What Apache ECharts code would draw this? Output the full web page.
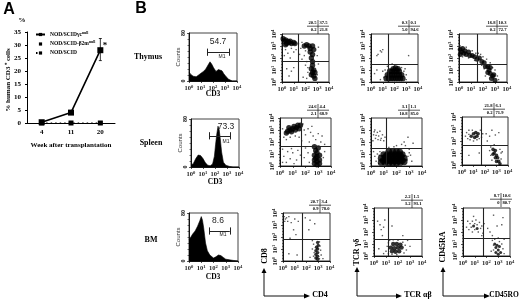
<!DOCTYPE html>
<html><head><meta charset="utf-8">
<script src="https://cdn.jsdelivr.net/npm/echarts@6/dist/echarts.min.js"></script>
<style>html,body{margin:0;background:#fff}#c{width:520px;height:300px;filter:blur(.4px)}</style>
</head><body><div id="c"></div>
<script>
const FONT='"Liberation Serif"';
// ---- Panel A data
const weeks=['4','11','20'];
const gcNull=[0.3,4,28];
const b2mNull=[0,0,0];
const scid=[0,0,0];
const gcError=[null,null,[24,32.5]];
const aNames=['NOD/SCIDγc','NOD/SCID-β2m','NOD/SCID'];
// ---- Histograms: [log10 fluorescence, counts]
const histThymus=[[0,15],[.15,11],[.35,8],[.6,7],[.8,10],[1,13],[1.2,16],[1.4,20],[1.6,27],[1.75,32],[1.9,28],[2.05,22],[2.25,16],[2.45,19],[2.6,22],[2.75,17],[2.9,12],[3.1,7],[3.3,3],[3.45,1],[3.6,0],[4,0]];
const histSpleen=[[0,3],[.2,6],[.4,14],[.6,20],[.8,19],[1,14],[1.2,7],[1.4,3],[1.6,2],[1.8,5],[1.95,18],[2.05,38],[2.15,55],[2.25,68],[2.35,62],[2.45,45],[2.55,25],[2.7,8],[2.9,3],[3.2,1],[3.5,0],[4,0]];
const histBM=[[0,35],[.1,38],[.3,45],[.5,50],[.7,58],[.9,68],[1,74],[1.1,68],[1.2,55],[1.35,30],[1.5,17],[1.7,10],[2,5],[2.2,7],[2.4,10],[2.6,9],[2.8,6],[3,3],[3.3,2],[3.6,1],[4,0]];
const histLabels=['54.7','73.3','8.6'];
const m1Ranges=[[1.5,3.33,48],[1.5,3.25,52],[1.67,3.33,50]];
// ---- Dot plots
const crosses=[[1.36,1.75],[1.45,1.5],[1.5,1.5],[1.7,1.65],[1.18,1.5],[1.65,1.65],[1.6,1.85],[1.2,1.4],[1.75,1.5]];
const quads=[
 [['20.5','37.5'],['0.2','21.8']],[['0.3','0.1'],['5.0','94.6']],[['16.8','10.3'],['0.2','72.7']],
 [['24.6','4.4'],['2.1','68.9']],[['3.1','1.1'],['10.8','85.0']],[['21.8','6.1'],['0.2','71.9']],
 [['20.7','3.4'],['0.9','78.0']],[['2.2','1.5'],['3.2','93.1']],[['8.7','10.6'],['0','80.7']]];
const dense1=[[.1,3.6],[.2,3.4],[.3,3.5],[.4,3.2],[.5,3.4],[.6,3.3],[.7,3.4],[.8,3.2],[1,3.3],[1.1,3.2],[.3,3.1],[1.9,3],[2.1,3.1],[2.3,3],[2.4,2.8],[2.6,3],[2.7,2.7],[2.4,2.5],[2.6,2.3],[2.5,2],[2.6,1.7],[2.6,1.4],[2.5,1.1],[2.7,1],[2.6,.8],[2.7,.5],[2.8,.3],[2.5,.6],[2.8,.8]];
const sparse1=[[.3,2.7],[.5,2.4],[.8,2.8],[1,2.5],[.2,2.2],[.7,2],[1.2,2.7],[1.6,2.8],[1.4,3.2],[1.7,3.3],[1.5,2.3],[1.9,2.2],[1.7,1.9],[2.1,1.7],[2.2,1.2],[2,1.4],[2.2,.8],[3.1,1.5],[3,2.2],[3.1,2.9],[.4,1.1],[.8,.9],[.6,.5],[1,1.2],[1.8,.4],[2.1,.3],[2,2.6],[3,.6]];
const dense2=[[1.3,.3],[1.5,.3],[1.7,.3],[1.9,.3],[2.1,.3],[2.3,.3],[2.5,.3],[2.7,.3],[1.4,.6],[1.6,.6],[1.8,.6],[2,.6],[2.2,.6],[2.4,.6],[2.6,.6],[1.6,.9],[1.8,.9],[2,.9],[2.2,.9],[2.4,.9],[1.9,1.1],[2.1,1.15],[2.3,1.1]];
const sparse2=[[.6,2.3],[.8,2.6],[.5,2.2],[1,2.7],[.9,2.5],[.3,.7],[.5,1],[1,.9],[1.1,.4],[1.2,1],[1.4,1.3],[1.8,1.5],[2,1.4],[2.6,1.2],[2.8,.9],[3,.6],[3,.2],[2.9,1.1],[.8,.2],[3.2,2.2]];
const dense3=[[.1,2.7],[.1,2.3],[.2,2.5],[.3,2.8],[.4,2.4],[.5,2.6],[.6,2.3],[.8,2.5],[.9,2.2],[1.1,2.2],[1.3,2.1],[1.5,1.9],[1.7,2],[1.9,1.7],[2.1,1.6],[2.2,1.3],[2.4,1.3],[2.5,1],[2.6,.7],[2.4,.8],[2.8,.5],[2.7,.3],[3,.15],[2.9,.6],[2.6,1.2]];
const sparse3=[[.1,3],[.3,2.1],[.6,2.9],[.8,2],[1.1,2.6],[1.4,2.4],[1.6,2.4],[1.3,1.8],[1.8,2.3],[2,2.1],[2.3,1.9],[2.6,1.6],[2.8,1.2],[3,1],[3.2,.5],[3.3,.2],[2.1,1.1],[1.9,1.4],[2.2,.5]];
const dense4=[[.6,2.9],[.8,3],[.7,3.2],[.9,2.85],[1,3.1],[1.1,3.3],[1.2,3],[1.3,3.2],[1.4,3.4],[1.5,3.1],[1.6,3.4],[.5,2.75],[2.7,1.6],[2.8,1.3],[2.9,1.1],[2.7,.9],[2.9,.8],[3.1,.9],[2.7,.5],[2.9,.4],[3.1,.5],[2.7,.2],[2.9,.1],[3.1,.2],[3,1.5],[2.8,.65]];
const sparse4=[[.2,3.1],[.3,2.4],[.5,2.2],[.8,2.4],[1.2,2.5],[1.5,2.4],[1.8,3.5],[1.9,3],[2,2.6],[2.2,3.1],[2.4,2.8],[2.6,2.5],[2.8,2.2],[3,2.7],[3.2,2],[3.5,1.8],[2.3,2],[.2,1.4],[.3,.8],[.6,1.2],[.8,.6],[1,1.1],[1.3,.5],[1.4,1.3],[1.1,.2],[.5,.3],[1.9,.7],[2.2,1.1],[2.3,.3],[3.4,.7],[3.5,1.2],[.2,.3],[1.6,.9],[2,1.5],[.9,1.45],[3.3,2.5],[2.5,3.3],[1.7,2.1]];
const dense5=[[.8,.3],[1.1,.3],[1.4,.25],[1.7,.25],[2,.25],[2.3,.3],[2.6,.35],[.8,.65],[1.1,.65],[1.4,.6],[1.7,.6],[2,.6],[2.3,.6],[2.6,.65],[1,.95],[1.3,.95],[1.6,.95],[1.9,.95],[2.2,.95],[2.45,.95],[1.4,1.2],[1.7,1.2],[2,1.2],[2.25,1.15],[.95,.45],[1.25,.45],[1.55,.42],[1.85,.42],[2.15,.42],[2.45,.45],[1.15,.8],[1.45,.8],[1.75,.8],[2.05,.8],[2.35,.8]];
const sparse5=[[.15,2.1],[.2,2.6],[.3,3],[.35,2.3],[.5,2.8],[.55,2.2],[.6,2.5],[.7,2.9],[.8,2.3],[.9,2.6],[1,2.1],[.4,2.55],[.25,2.85],[.75,2.15],[1.1,2.4],[.2,1.2],[.3,.8],[.5,1],[.4,.4],[.7,1.2],[.6,.2],[2,1.7],[2.4,1.8],[2.6,2],[2.7,1.7],[3,1.4],[3.1,.9],[3.2,.4],[3,1.1],[1.4,1.55],[1.8,1.6],[2.9,2.4],[3.3,1.9],[.65,.9],[2.85,.5],[2.9,.8]];
const dense6=[[.8,2.4],[1,2.6],[1.1,2.3],[1.2,2.7],[1.3,2.4],[1.4,2.6],[2.7,1.3],[2.8,1],[2.9,1.2],[3,.8],[2.9,.6],[3.1,.6],[3,.3],[3.2,.3],[3.3,.1],[2.7,.9]];
const sparse6=[[.3,2.4],[.4,2.7],[.5,2.2],[.6,2.9],[.7,2.1],[.9,2.9],[1.5,2.2],[1.6,2.9],[1.7,2.3],[1,2],[1.3,2.1],[.6,2.55],[1.8,2.6],[2.1,2.6],[2.4,2.4],[2.6,2.9],[2.9,2.5],[3.2,2.7],[2.2,2],[2.8,1.7],[2.5,1.5],[2.5,.8],[2.6,.4],[3.4,1],[3.4,.5],[3.3,1.3],[3.5,1.1],[2.4,1.2],[1.5,1],[.6,.8]];
const dense7=[[2.95,1.55],[3,1.3],[2.85,1.15],[2.95,1],[2.8,.85],[2.95,.7],[2.8,.55],[2.95,.4],[2.8,.25],[2.95,.15]];
const sparse7=[[.1,3.7],[.2,3.5],[.15,3.3],[.3,3.6],[.4,3.3],[.5,3.7],[.7,3.2],[1,3.5],[1.3,3.3],[.9,2.6],[1.1,2.2],[.6,1.9],[1.9,3.6],[2.3,3.4],[2.7,3.1],[2.2,2.6],[2.5,1],[2.6,.4],[2.6,1.4],[3.1,1.6],[3.2,.9],[3.25,.5],[3.1,.2],[3.4,.2],[1.2,.5],[.5,.6],[2.3,.3],[2.5,1.7],[3.15,1.25],[2.65,.7]];
const dense8=[[1.5,.4],[1.8,.35],[2.1,.4],[1.4,.7],[1.7,.65],[2,.7],[2.3,.7],[1.6,1],[1.9,1],[2.2,.95]];
const sparse8=[[.3,2.9],[.5,2.6],[.6,2.2],[.8,2.4],[.9,3],[1.5,2.5],[.7,1.7],[1,.4],[1.1,.8],[1.2,1.1],[1.2,.2],[1.3,1.3],[1.6,1.35],[2,1.3],[2.4,1.15],[2.6,.9],[2.7,.5],[2.5,.25],[1.5,.15],[1.9,.1],[3,.8],[2.8,1.3],[.4,.6],[.8,.2],[2.4,1.7]];
const dense9=[[.9,2.5],[1.2,2.3],[2.7,1],[2.8,.7],[2.9,.9],[3,.5],[2.8,.3],[3,.15],[3.1,.8],[3.2,.3]];
const sparse9=[[.3,2.4],[.4,2.9],[.5,2.2],[.6,2.7],[.7,2.4],[.8,2.9],[.8,2],[1,2.7],[1,2.2],[1.1,3],[1.2,2.6],[1.3,2],[1.4,2.8],[1.5,2.3],[1.6,2.5],[1.7,1.9],[1.8,2.7],[2.1,2.3],[2.3,2],[2.5,1.7],[2.5,1.3],[2.6,.9],[2.6,.5],[2.7,1.4],[3,1.5],[3.1,1.2],[3.3,1],[3.4,.6],[3.5,.2],[3.3,2.6],[3.5,1.4],[2.9,2.5],[2.6,3.4],[3.4,3.2],[.9,3.3],[1.6,1.7],[2.4,.4]];
const denseSets=[dense1,dense2,dense3,dense4,dense5,dense6,dense7,dense8,dense9];
const sparseSets=[sparse1,sparse2,sparse3,sparse4,sparse5,sparse6,sparse7,sparse8,sparse9];

// ---- Layout (pixels, separate from the data)
const histBoxes=[[189,33,48,48],[191,119,48,48],[189,213,49,48]];
const dotBoxes=[[282,34,47,48],[371,34,47,48],[459,34,48,48],[280,118,51,48],[371,118,51,48],[462,117,46,48],[283,213,47,48],[374,208,48,48],[463,208,47,48]];
const quadPos=[[318,23],[409,23],[497,23],[318,107],[409,107],[494,106],[320,202],[412,197],[501,196]];
const denseSize=[5.4,5.8,5,5.4,6.8,3.6,3.4,4.4,3];

const T=(text,x,y,size,opt={})=>({type:'text',x,y,rotation:opt.rot||0,silent:true,style:{text,font:(opt.weight||'bold')+' '+size+'px '+(opt.family||FONT),fill:opt.fill||'#000',align:opt.align||'center',verticalAlign:'middle'}});
const L=(x1,y1,x2,y2,w=1)=>({type:'line',silent:true,shape:{x1,y1,x2,y2},style:{stroke:'#111',lineWidth:w}});
const Arrow=(x,y,dx,dy)=>({type:'polygon',silent:true,shape:{points:dx?[[x,y-2.5],[x,y+2.5],[x+dx,y]]:[[x-2.5,y],[x+2.5,y],[x,y+dy]]},style:{fill:'#000'}});

const grid=[],xAxis=[],yAxis=[],series=[],graphic=[];
const logLabel=v=>'{b|10}{s|'+v+'}';
const logRich={b:{fontFamily:FONT,fontSize:6.5,fontWeight:'bold',color:'#222'},s:{fontFamily:FONT,fontSize:4.6,fontWeight:'bold',color:'#222',padding:[0,0,4,0]}};
function logAxis(rot,margin){return{type:'value',min:0,max:4,interval:1,axisLine:{show:true,lineStyle:{color:'#111',width:1}},axisTick:{show:true,length:2,lineStyle:{color:'#111',width:.7}},minorTick:{show:true,splitNumber:4,length:1,lineStyle:{color:'#111',width:.5}},splitLine:{show:false},axisLabel:{formatter:logLabel,rich:logRich,rotate:rot,margin:margin,showMinLabel:true,showMaxLabel:true,hideOverlap:false}}}

// Panel A
grid.push({left:27,top:32,width:88,height:91});
xAxis.push({type:'category',data:weeks,axisLine:{lineStyle:{color:'#000',width:1}},axisTick:{alignWithLabel:true,length:2,lineStyle:{color:'#000'}},axisLabel:{fontFamily:FONT,fontWeight:'bold',fontSize:7,color:'#000',margin:6},name:'Week after transplantation',nameLocation:'middle',nameGap:19,nameTextStyle:{fontFamily:FONT,fontWeight:'bold',fontSize:7,color:'#000'}});
yAxis.push({type:'value',min:0,max:35,interval:5,axisLine:{show:true,lineStyle:{color:'#000',width:1}},axisTick:{show:true,length:2,lineStyle:{color:'#000'}},splitLine:{show:false},axisLabel:{fontFamily:FONT,fontWeight:'bold',fontSize:7,color:'#000',margin:6}});
series.push({name:aNames[0],type:'line',xAxisIndex:0,yAxisIndex:0,data:gcNull,symbol:'rect',symbolSize:6,itemStyle:{color:'#000'},lineStyle:{color:'#000',width:1.6},z:5});
series.push({name:aNames[1],type:'line',xAxisIndex:0,yAxisIndex:0,data:b2mNull,symbol:'rect',symbolSize:4,itemStyle:{color:'#000'},lineStyle:{width:0},z:5});
series.push({name:aNames[2],type:'line',xAxisIndex:0,yAxisIndex:0,data:scid,symbol:'rect',symbolSize:5,itemStyle:{color:'#000'},lineStyle:{color:'#000',width:1.2,type:[1.5,3]},z:4});
series.push({type:'custom',xAxisIndex:0,yAxisIndex:0,data:gcError.map((e,i)=>e?[i,e[0],e[1]]:null).filter(Boolean),encode:{x:0,y:[1,2]},silent:true,
 renderItem(p,api){const a=api.coord([api.value(0),api.value(1)]),b=api.coord([api.value(0),api.value(2)]);
  const st={stroke:'#000',lineWidth:.8};
  return{type:'group',children:[{type:'line',shape:{x1:a[0],y1:a[1],x2:b[0],y2:b[1]},style:st},{type:'line',shape:{x1:a[0]-1.5,y1:a[1],x2:a[0]+1.5,y2:a[1]},style:st},{type:'line',shape:{x1:b[0]-1.5,y1:b[1],x2:b[0]+1.5,y2:b[1]},style:st}]}}});

// Histograms
[histThymus,histSpleen,histBM].forEach((h,i)=>{
 const b=histBoxes[i],idx=grid.length,r=m1Ranges[i];
 grid.push({left:b[0],top:b[1],width:b[2],height:b[3],show:true,borderColor:'#444',borderWidth:1,backgroundColor:'transparent'});
 xAxis.push(Object.assign(logAxis(0,3),{gridIndex:idx}));
 const ya=logAxis(90,3);
 yAxis.push(Object.assign(ya,{gridIndex:idx,min:0,max:80,interval:80,minorTick:{show:true,splitNumber:8,length:1.5,lineStyle:{color:'#111',width:.6}},axisLabel:{rotate:90,margin:3,fontFamily:FONT,fontWeight:'bold',fontSize:6,color:'#111'}}));
 series.push({type:'line',xAxisIndex:idx,yAxisIndex:idx,data:h,symbol:'none',lineStyle:{color:'#000',width:.6},areaStyle:{color:'#000',opacity:1},silent:true,
  markLine:{silent:true,symbol:'none',animation:false,label:{show:false},lineStyle:{color:'#222',width:1,type:'solid'},data:[[{coord:[r[0],r[2]]},{coord:[r[1],r[2]]}],[{coord:[r[0],r[2]-6]},{coord:[r[0],r[2]+6]}],[{coord:[r[1],r[2]-6]},{coord:[r[1],r[2]+6]}]]}});
 graphic.push(T(histLabels[i],[218,226,218][i],[42,127,221][i],8.5,{weight:'normal',family:'"Liberation Sans"',fill:'#222'}));
 graphic.push(T('M1',[222,226,223][i],[57,142,235][i],5,{weight:'normal',family:'"Liberation Sans"',fill:'#222'}));
 graphic.push(T('Counts',b[0]-11,b[1]+b[3]/2,6,{rot:Math.PI/2,weight:'normal',family:'"Liberation Sans"',fill:'#333'}));
 graphic.push(T('CD3',b[0]+24,[94,182,277][i],7.5));
});

// Dot plots
denseSets.forEach((d,i)=>{
 const b=dotBoxes[i],idx=grid.length,c=crosses[i],q=quads[i],qp=quadPos[i];
 grid.push({left:b[0],top:b[1],width:b[2],height:b[3],show:true,borderColor:'#333',borderWidth:1,backgroundColor:'transparent'});
 xAxis.push(Object.assign(logAxis(0,3),{gridIndex:idx}));
 yAxis.push(Object.assign(logAxis(90,3),{gridIndex:idx}));
 series.push({type:'scatter',xAxisIndex:idx,yAxisIndex:idx,data:sparseSets[i],symbol:'rect',symbolSize:1.4,itemStyle:{color:'#333'},silent:true});
 series.push({type:'scatter',xAxisIndex:idx,yAxisIndex:idx,data:d,symbolSize:denseSize[i],itemStyle:{color:'#000'},silent:true,
  markLine:{silent:true,symbol:'none',animation:false,label:{show:false},lineStyle:{color:'#222',width:1.1,type:'solid'},data:[{xAxis:c[0]},{yAxis:c[1]}]}});
 const [cx,y]=qp;
 graphic.push(T(q[0][0],cx-1.5,y,4.6,{align:'right'}),T(q[0][1],cx+1.5,y,4.6,{align:'left'}),T(q[1][0],cx-1.5,y+6.5,4.6,{align:'right'}),T(q[1][1],cx+1.5,y+6.5,4.6,{align:'left'}));
 graphic.push(L(cx-11,y+3.2,cx+11,y+3.2,.7),L(cx,y-3,cx,y+11,.7));
});

// Free text
graphic.push(
 T('A',9,10,16,{family:'"Liberation Sans"'}),T('B',141,9,16,{family:'"Liberation Sans"'}),
 T('%',22,20,7),T('*',105,46,9),
 T('% human CD3 ⁺ cells',8,80,7,{rot:Math.PI/2}),
 T('Thymus',148,57,8),T('Spleen',151,143,8),T('BM',151,240,8),
 T('CD8',265,256,8,{rot:Math.PI/2}),T('CD4',320,295,8),
 T('TCR γδ',357,252,8,{rot:Math.PI/2}),T('TCR αβ',418,295,8),
 T('CD45RA',443,247,8,{rot:Math.PI/2}),T('CD45RO',504,295,7.5)
);
// Axis arrows
[[264,296,269,308],[357,296,268,400],[443,296,268,488]].forEach(a=>{
 graphic.push(L(a[0],a[1],a[0],a[2]+3),L(a[0],a[1],a[3]-3,a[1]),Arrow(a[0],a[2]+4,0,-5),Arrow(a[3]-4,a[1],6,0));
});

const chart=echarts.init(document.getElementById('c'),null,{renderer:'canvas'});
chart.setOption({animation:false,backgroundColor:'#fff',
 legend:{left:35,top:31,orient:'vertical',itemWidth:9,itemHeight:4,itemGap:3,padding:0,data:aNames,selectedMode:false,
  formatter:n=>n+(n===aNames[2]?'':'{s|null}'),
  textStyle:{fontFamily:FONT,fontWeight:'bold',fontSize:5.5,color:'#000',rich:{s:{fontFamily:FONT,fontWeight:'bold',fontSize:3.8,color:'#000',padding:[0,0,3,0]}}}},
 grid,xAxis,yAxis,series,graphic});
</script></body></html>
